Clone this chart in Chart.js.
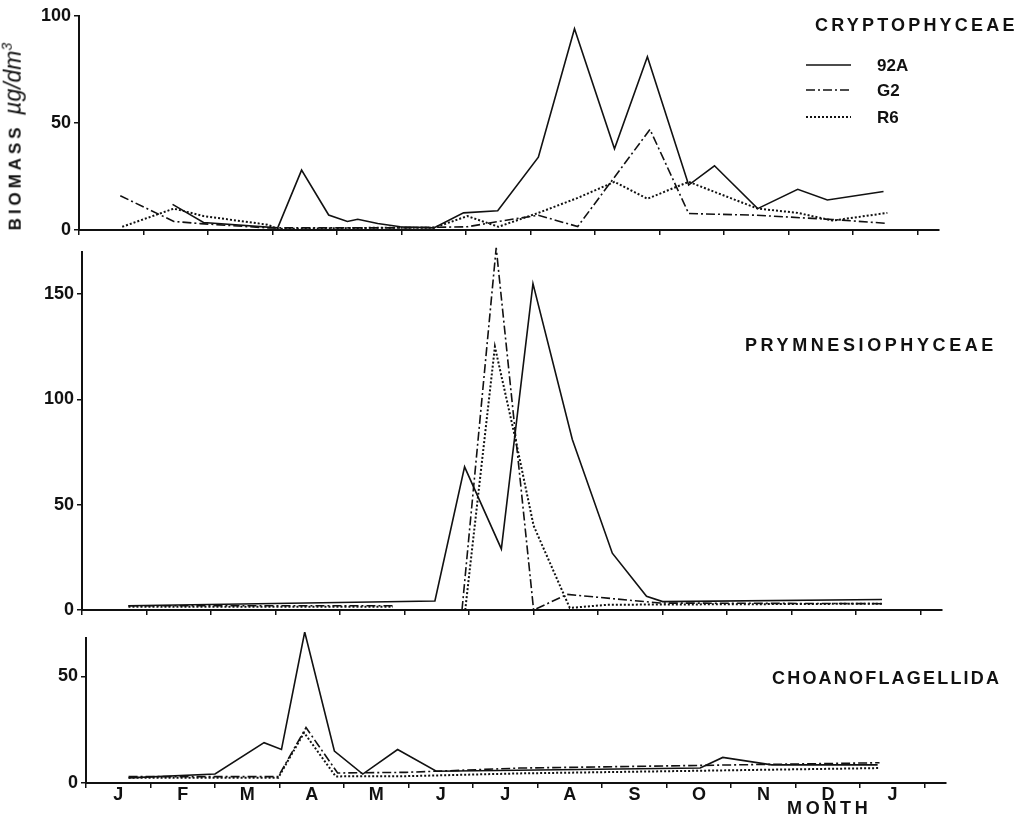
<!DOCTYPE html>
<html lang="en">
<head>
<meta charset="UTF-8">
<title>Biomass by month</title>
<script src="https://cdn.jsdelivr.net/npm/chart.js@4.4.0/dist/chart.umd.min.js"></script>
<style>
  body { margin: 0; background: #fff; }
  #page {
    position: relative;
    width: 1029px;
    height: 816px;
    overflow: hidden;
    font-family: 'Liberation Sans', Arial, sans-serif;
    color: #111;
  }
  canvas { position: absolute; left: 0; }
  .lbl { position: absolute; font-weight: bold; white-space: nowrap; line-height: 1; }
  .title { font-size: 18px; }
  .key { position: absolute; left: 806px; }
  #ytitle {
    position: absolute;
    width: 230px;
    left: -104px;
    top: 99px;
    transform: rotate(-90deg);
    font-size: 17px;
    font-weight: bold;
    white-space: nowrap;
    line-height: 24px;
  }
  #ytitle .b { letter-spacing: 3.9px; }
  #ytitle .u { font-style: italic; font-weight: normal; font-size: 23px; margin-left: 4px; }
</style>
</head>
<body>
<div id="page">
  <canvas id="cry" width="1029" height="247" style="top:-2px"></canvas>
  <canvas id="pry" width="1029" height="391" style="top:234px"></canvas>
  <canvas id="cho" width="1029" height="196" style="top:620px"></canvas>

  <div id="ytitle"><span class="b">BIOMASS</span> <span class="u">µg/dm<sup style="font-size:14px">3</sup></span></div>

  <div class="lbl title" style="left:815px; top:16px; letter-spacing:3.2px">CRYPTOPHYCEAE</div>
  <svg class="key" style="top:59px" width="45" height="12"><line x1="0" y1="6" x2="45" y2="6" stroke="#111" stroke-width="1.6"/></svg>
  <svg class="key" style="top:84px" width="45" height="12"><line x1="0" y1="6" x2="45" y2="6" stroke="#111" stroke-width="1.6" stroke-dasharray="9 3 2 3"/></svg>
  <svg class="key" style="top:111px" width="45" height="12"><line x1="0" y1="6" x2="45" y2="6" stroke="#111" stroke-width="2" stroke-dasharray="2 2"/></svg>
  <div class="lbl" style="left:877px; top:57px; font-size:17px">92A</div>
  <div class="lbl" style="left:877px; top:82px; font-size:17px">G2</div>
  <div class="lbl" style="left:877px; top:109px; font-size:17px">R6</div>

  <div class="lbl title" style="left:745px; top:336px; letter-spacing:3.6px">PRYMNESIOPHYCEAE</div>
  <div class="lbl title" style="left:772px; top:669px; letter-spacing:2.2px">CHOANOFLAGELLIDA</div>
  <div class="lbl" style="left:787px; top:799px; font-size:18px; letter-spacing:3.7px">MONTH</div>
</div>

<script>
  // month letters, shown at the middle of each month (x = months since 1 Jan)
  const monthLabels = ['J', 'F', 'M', 'A', 'M', 'J', 'J', 'A', 'S', 'O', 'N', 'D', 'J'];

  // Cryptophyceae
  const cryMonths92A = [1.45, 1.93, 3.08, 3.45, 3.87, 4.16, 4.32, 4.63, 4.98, 5.5, 5.96, 6.49, 7.12, 7.68, 8.3, 8.81, 9.45, 9.85, 10.52, 11.14, 11.6, 12.47];
  const cry92A = [12, 3.5, 1, 28, 7, 4, 5, 3, 1.5, 1, 8, 9, 34, 94, 38, 81, 21, 30, 10, 19, 14, 18];
  const cryMonthsG2 = [0.64, 1.47, 1.88, 2.92, 4.0, 5.0, 6.02, 6.5, 7.12, 7.73, 8.85, 9.45, 10.5, 11.68, 12.53];
  const cryG2 = [16, 4, 3, 1, 1, 1, 1.5, 4, 6.9, 1.6, 47, 7.7, 6.9, 4.9, 3.1];
  const cryMonthsR6 = [0.67, 1.47, 1.93, 2.92, 3.08, 4.5, 5.5, 6.02, 6.5, 7.12, 7.73, 8.3, 8.81, 9.45, 10.52, 11.14, 11.68, 12.53];
  const cryR6 = [1.5, 10, 6.5, 2.5, 0.5, 1, 1, 6.5, 1.5, 8, 15, 22.5, 14.6, 22.5, 10, 8, 4.4, 8];

  // Prymnesiophyceae (null = no line drawn)
  const pryMonths92A = [0.72, 5.47, 5.93, 6.5, 6.99, 7.6, 8.22, 8.75, 9.0, 12.4];
  const pry92A = [2, 4.3, 68, 29, 155, 81, 27, 6.5, 4, 5];
  const pryMonthsG2 = [0.72, 4.82, 5.3, 5.89, 6.42, 7.0, 7.52, 8.96, 12.4];
  const pryG2 = [2, 2, null, 0, 172, 0, 7.4, 3.3, 3];
  const pryMonthsR6 = [0.72, 4.82, 5.3, 5.94, 6.4, 6.72, 7.0, 7.56, 8.15, 12.4];
  const pryR6 = [1.5, 1.5, null, 0, 125, 81, 40, 1, 2.5, 3];

  // Choanoflagellida
  const choMonths92A = [0.66, 2.0, 2.76, 3.03, 3.39, 3.85, 4.29, 4.83, 5.43, 9.52, 9.87, 10.63, 12.27];
  const cho92A = [2.4, 4.2, 18.9, 15.7, 70.8, 15, 4.2, 15.7, 5.5, 7, 12, 8.5, 8.5];
  const choMonthsG2 = [0.66, 2.98, 3.41, 3.9, 4.96, 6.72, 12.3];
  const choG2 = [3, 3, 26, 4.7, 5, 7, 9.5];
  const choMonthsR6 = [0.66, 2.98, 3.38, 3.87, 4.96, 6.72, 12.3];
  const choR6 = [2.5, 2.5, 23.6, 3.1, 3.2, 4.5, 7];

  const ink = '#111';
  const fontFamily = "'Liberation Sans', Arial, sans-serif";

  function points(months, values) {
    return months.map((m, i) => ({ x: m, y: values[i] }));
  }

  function series(months, values, style) {
    const ds = {
      data: points(months, values),
      borderColor: ink,
      borderWidth: 1.6,
      pointRadius: 0,
      spanGaps: false,
      clip: 6
    };
    if (style === 'dashdot') ds.borderDash = [9, 3, 2, 3];
    if (style === 'dot') { ds.borderDash = [2, 2]; ds.borderWidth = 2; }
    return ds;
  }

  // p: canvas top, chart top/bottom/left/right in page pixels
  function makePanel(id, p, datasets, yMax, yTicks, showMonths) {
    const canvasHeight = document.getElementById(id).height;
    const xHeight = showMonths ? canvasHeight - (p.bottom - p.canvasTop) : 10;
    const padBottom = showMonths ? 0 : canvasHeight - (p.bottom - p.canvasTop) - xHeight;
    return new Chart(document.getElementById(id), {
      type: 'line',
      data: { datasets: datasets },
      options: {
        responsive: false,
        animation: false,
        layout: { padding: { top: p.top - p.canvasTop, bottom: padBottom, left: 10, right: 1029 - p.right } },
        plugins: { legend: { display: false }, tooltip: { enabled: false } },
        scales: {
          x: {
            type: 'linear',
            min: 0,
            max: 13.33,
            afterBuildTicks: s => { s.ticks = monthLabels.map((_, i) => ({ value: i + 0.5 })); },
            afterFit: s => { s.height = xHeight; },
            grid: { offset: true, drawOnChartArea: false, tickLength: 5, color: ink, lineWidth: 1.5 },
            border: { display: true, color: ink, width: 2 },
            ticks: {
              color: ink,
              font: { family: fontFamily, size: 18, weight: 'bold' },
              padding: -4,
              maxRotation: 0,
              autoSkip: false,
              callback: (v, i) => showMonths ? monthLabels[i] : ''
            }
          },
          y: {
            min: 0,
            max: yMax,
            afterBuildTicks: s => { s.ticks = yTicks.map(v => ({ value: v })); },
            afterFit: s => { s.width = p.left - 10; },
            grid: { drawOnChartArea: false, tickLength: 5, color: ink, lineWidth: 1.5 },
            border: { display: true, color: ink, width: 2 },
            ticks: { color: ink, font: { family: fontFamily, size: 18, weight: 'bold' }, padding: 3 }
          }
        }
      }
    });
  }

  makePanel('cry', { canvasTop: -2, top: 16, bottom: 230, left: 79, right: 939 }, [
    series(cryMonths92A, cry92A, 'solid'),
    series(cryMonthsG2, cryG2, 'dashdot'),
    series(cryMonthsR6, cryR6, 'dot')
  ], 100, [0, 50, 100], false);

  makePanel('pry', { canvasTop: 234, top: 252, bottom: 610, left: 82, right: 942 }, [
    series(pryMonths92A, pry92A, 'solid'),
    series(pryMonthsG2, pryG2, 'dashdot'),
    series(pryMonthsR6, pryR6, 'dot')
  ], 170, [0, 50, 100, 150], false);

  makePanel('cho', { canvasTop: 620, top: 638, bottom: 783, left: 86, right: 946 }, [
    series(choMonths92A, cho92A, 'solid'),
    series(choMonthsG2, choG2, 'dashdot'),
    series(choMonthsR6, choR6, 'dot')
  ], 68, [0, 50], true);
</script>
</body>
</html>
